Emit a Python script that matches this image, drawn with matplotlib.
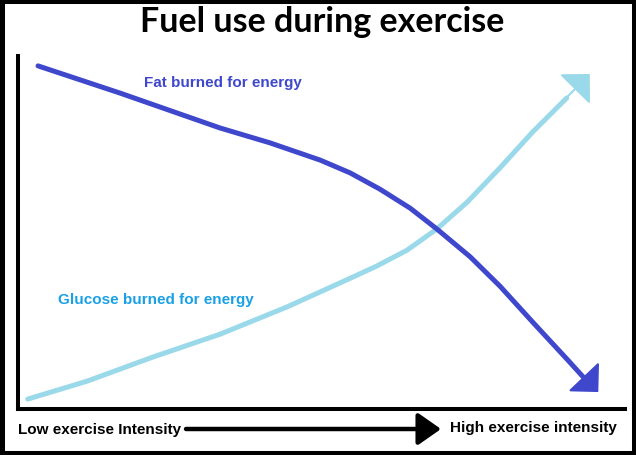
import matplotlib
matplotlib.use('Agg')
import matplotlib.pyplot as plt
from matplotlib.patches import Rectangle, FancyArrowPatch

# intensidad de ejercicio (0-100) y uso de combustible (0-100)
fat_x = [3.3, 16.8, 33.3, 41.5, 49.8, 54.7, 59.6, 64.6, 69.0, 74.5, 79.4, 84.8, 90.4, 93.1, 95.6]
fat_y = [97.2, 89.5, 79.6, 75.4, 70.5, 66.9, 62.3, 56.9, 51.0, 43.1, 34.8, 24.6, 14.2, 9.1, 4.8]

glu_x = [1.6, 11.4, 22.2, 33.3, 44.3, 55.2, 59.1, 64.1, 69.0, 74.0, 79.4, 84.8, 90.4, 94.2]
glu_y = [2.8, 7.9, 14.7, 21.2, 28.9, 37.4, 40.5, 45.0, 51.0, 58.6, 68.3, 78.5, 88.1, 94.9]

titulo = 'Fuel use during exercise'
etiqueta_fat = 'Fat burned for energy'
etiqueta_glu = 'Glucose burned for energy'
etiqueta_baja = 'Low exercise Intensity'
etiqueta_alta = 'High exercise intensity'

c_fat = '#3F48CC'
c_glu = '#99D9EA'
c_glu_txt = '#1AA0E6'

fig = plt.figure(figsize=(6.36, 4.56), dpi=100)
ax = fig.add_axes([18 / 636, 46 / 456, 607 / 636, 353 / 456])
ax.set_xlim(0, 100)
ax.set_ylim(0, 100)
ax.set_xticks([])
ax.set_yticks([])
for lado in ['top', 'right']:
    ax.spines[lado].set_visible(False)
for lado in ['left', 'bottom']:
    ax.spines[lado].set_linewidth(2.9)
    ax.spines[lado].set_capstyle('projecting')


def curva_con_flecha(xs, ys, color):
    ax.plot(xs[:-1], ys[:-1], color=color, lw=3.6, solid_capstyle='round',
            solid_joinstyle='round', clip_on=False)
    ax.annotate('', xy=(xs[-1], ys[-1]), xytext=(xs[-3], ys[-3]),
                arrowprops=dict(arrowstyle='-|>,head_length=0.68,head_width=0.68',
                                mutation_scale=20, color=color, lw=1.5,
                                shrinkA=0, shrinkB=0, joinstyle='round'),
                annotation_clip=False)


curva_con_flecha(glu_x, glu_y, c_glu)
curva_con_flecha(fat_x, fat_y, c_fat)

ax.text(33.7, 92.6, etiqueta_fat, color=c_fat, fontsize=11, fontweight='bold',
        family='Liberation Sans', ha='center', va='center')
ax.text(22.7, 31.2, etiqueta_glu, color=c_glu_txt, fontsize=11, fontweight='bold',
        family='Liberation Sans', ha='center', va='center')

fig.text(0.507, 0.951, titulo, fontsize=24.5, fontweight='bold', family='Lato',
         ha='center', va='center')

fig.text(18 / 636, 1 - 430 / 456, etiqueta_baja, fontsize=11, fontweight='bold',
         family='Liberation Sans', ha='left', va='center')
fig.text(617 / 636, 1 - 428 / 456, etiqueta_alta, fontsize=11, fontweight='bold',
         family='Liberation Sans', ha='right', va='center')
fig.add_artist(FancyArrowPatch(
    (186 / 636, 1 - 430 / 456), (441 / 636, 1 - 430 / 456),
    transform=fig.transFigure, arrowstyle='-|>,head_length=1.0,head_width=0.7',
    mutation_scale=14, color='black', lw=3.2, shrinkA=0, shrinkB=0))

# borde negro de la imagen
fig.add_artist(Rectangle((0, 0), 1, 1, transform=fig.transFigure, fill=False,
                         lw=6.5, edgecolor='black'))

plt.savefig('out.png', dpi=100)
plt.close()
